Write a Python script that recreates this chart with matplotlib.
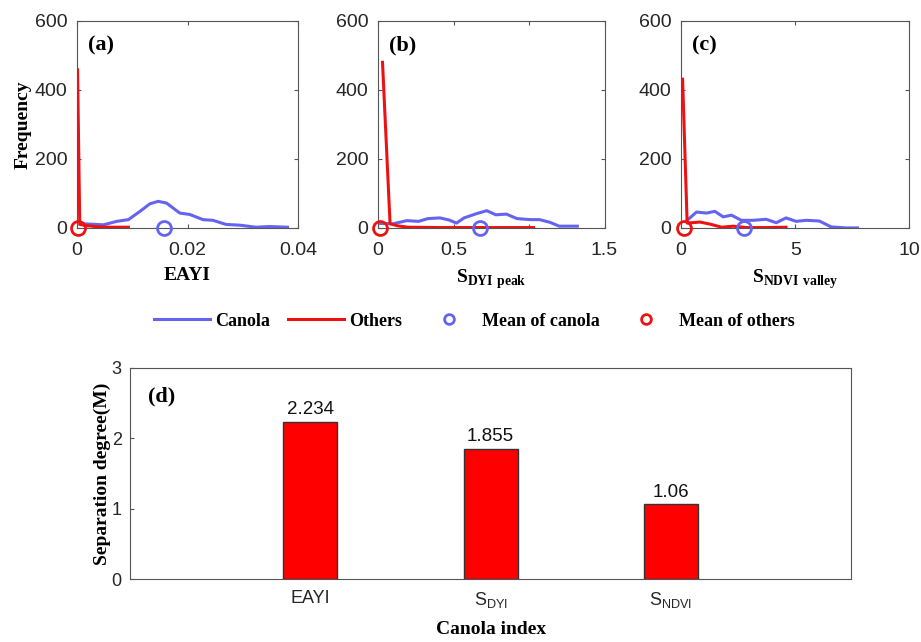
import numpy as np
import matplotlib
matplotlib.use('Agg')
import matplotlib.pyplot as plt
from matplotlib.lines import Line2D

plt.rcParams['font.family'] = ['Liberation Sans', 'DejaVu Sans']
plt.rcParams['mathtext.fontset'] = 'custom'
plt.rcParams['mathtext.rm'] = 'Liberation Sans'
plt.rcParams['mathtext.bf'] = 'Liberation Serif:bold'
plt.rcParams['axes.edgecolor'] = '#555555'
plt.rcParams['xtick.color'] = '#555555'
plt.rcParams['ytick.color'] = '#555555'
plt.rcParams['xtick.labelcolor'] = '#262626'
plt.rcParams['ytick.labelcolor'] = '#262626'

SERIF = ['Liberation Serif', 'DejaVu Serif']
BLUE = '#6464f0'
RED = '#ee1111'

# frequency curves for each index (x = index value, y = count)
eayi_canola_x = [0.0011, 0.0048, 0.0072, 0.0093, 0.0114, 0.0132, 0.0147, 0.0162, 0.0186,
                 0.0204, 0.0228, 0.0246, 0.0270, 0.0294, 0.0324, 0.0348, 0.0381]
eayi_canola_y = [12, 9, 19, 24, 48, 70, 77, 72, 43, 39, 24, 22, 10, 8, 2, 4, 2]
eayi_others_x = [0.0001, 0.0005, 0.002, 0.004, 0.006, 0.008, 0.0093]
eayi_others_y = [458, 10, 6, 3, 2, 2, 2]
eayi_means = (0.0157, 0.0001)

sdyi_canola_x = [0.013, 0.10, 0.19, 0.27, 0.33, 0.41, 0.47, 0.52, 0.57, 0.65, 0.72, 0.78,
                 0.85, 0.92, 1.01, 1.07, 1.14, 1.20, 1.32]
sdyi_canola_y = [13, 12, 21, 19, 27, 29, 23, 14, 29, 41, 50, 38, 40, 27, 24, 24, 16, 5, 5]
sdyi_others_x = [0.03, 0.08, 0.13, 0.2, 0.4, 0.6, 0.8, 1.03]
sdyi_others_y = [480, 12, 6, 2, 1, 1, 1, 1]
sdyi_means = (0.675, 0.013)

sndvi_canola_x = [0.27, 0.68, 1.12, 1.48, 1.85, 2.21, 2.64, 3.15, 3.73, 4.17, 4.6, 5.04,
                  5.48, 6.06, 6.57, 7.22, 7.73]
sndvi_canola_y = [22, 46, 43, 48, 32, 37, 22, 22, 25, 15, 29, 19, 22, 20, 3, 0, 0]
sndvi_others_x = [0.07, 0.27, 0.83, 1.27, 1.78, 2.29, 2.87, 3.74, 4.6]
sndvi_others_y = [431, 14, 17, 11, 2, 5, 1, 1, 2]
sndvi_means = (2.77, 0.15)

# separation degree per index
index_names = ['EAYI', r'$\mathrm{S_{DYI}}$', r'$\mathrm{S_{NDVI}}$']
separation = [2.234, 1.855, 1.06]

fig = plt.figure(figsize=(9.21, 6.42), dpi=100)


def hist_panel(rect, cx, cy, ox, oy, means, xlim, xticks, xlabel, letter, ylabel=None):
    ax = fig.add_axes(rect)
    ax.plot(cx, cy, color=BLUE, lw=2.2, zorder=2)
    ax.plot(ox, oy, color=RED, lw=2.2, zorder=3)
    ax.plot(means[0], 0, 'o', mfc='none', mec=BLUE, mew=2, ms=10, zorder=4, clip_on=False)
    ax.plot(means[1], 0, 'o', mfc='none', mec=RED, mew=2, ms=10, zorder=4, clip_on=False)
    ax.set_xlim(xlim)
    ax.set_ylim(0, 600)
    ax.set_xticks(xticks)
    ax.set_yticks([0, 200, 400, 600])
    ax.tick_params(direction='in', top=True, right=True, length=3, labelsize=14)
    ax.tick_params(axis='x', pad=10)
    ax.tick_params(axis='y', pad=7)
    ax.set_xlabel(xlabel, family=SERIF, fontweight='bold', fontsize=14, labelpad=6)
    if ylabel:
        ax.set_ylabel(ylabel, family=SERIF, fontweight='bold', fontsize=14, labelpad=2)
    ax.text(0.05, 0.88, letter, transform=ax.transAxes, family=SERIF, fontweight='bold',
            fontsize=16, ha='left', va='center')
    return ax


ax_a = hist_panel([0.0836, 0.645, 0.240, 0.3224], eayi_canola_x, eayi_canola_y,
                  eayi_others_x, eayi_others_y, eayi_means, (0, 0.04), [0, 0.02, 0.04],
                  'EAYI', '(a)', 'Frequency')
ax_a.set_xticklabels(['0', '0.02', '0.04'])
ax_b = hist_panel([0.4104, 0.645, 0.246, 0.3224], sdyi_canola_x, sdyi_canola_y,
                  sdyi_others_x, sdyi_others_y, sdyi_means, (0, 1.5), [0, 0.5, 1, 1.5],
                  r'$\mathbf{S}_{\mathbf{DYI\ peak}}$', '(b)')
ax_b.set_xticklabels(['0', '0.5', '1', '1.5'])
ax_c = hist_panel([0.7394, 0.645, 0.248, 0.3224], sndvi_canola_x, sndvi_canola_y,
                  sndvi_others_x, sndvi_others_y, sndvi_means, (0, 10), [0, 5, 10],
                  r'$\mathbf{S}_{\mathbf{NDVI\ valley}}$', '(c)')

# shared legend between the rows
handles = [
    Line2D([], [], color=BLUE, lw=2.2),
    Line2D([], [], color=RED, lw=2.2),
    Line2D([], [], ls='none', marker='o', mfc='none', mec=BLUE, mew=2, ms=7),
    Line2D([], [], ls='none', marker='o', mfc='none', mec=RED, mew=2, ms=7),
]
fig.legend(handles, ['Canola', 'Others', 'Mean of canola', 'Mean of others'],
           loc='center', bbox_to_anchor=(0.515, 0.50), ncol=4, frameon=False,
           prop={'family': SERIF, 'weight': 'bold', 'size': 13},
           handlelength=3.1, handletextpad=0.3, columnspacing=1.0)

# separation degree bars
ax_d = fig.add_axes([0.1412, 0.0981, 0.783, 0.3287])
pos = np.arange(1, len(separation) + 1)
ax_d.bar(pos, separation, width=0.3, color='#ff0000', edgecolor='#333333', lw=1)
for p, v in zip(pos, separation):
    ax_d.text(p, v + 0.05, f'{v:g}', ha='center', va='bottom', fontsize=13.5, color='#111111')
ax_d.set_xlim(0, 4)
ax_d.set_ylim(0, 3)
ax_d.set_xticks(pos)
ax_d.set_xticklabels(index_names)
ax_d.set_yticks([0, 1, 2, 3])
ax_d.tick_params(axis='x', length=0, labelsize=13, pad=8)
ax_d.tick_params(axis='y', direction='in', length=3, labelsize=13, pad=6)
ax_d.set_xlabel('Canola index', family=SERIF, fontweight='bold', fontsize=14, labelpad=8)
ax_d.set_ylabel('Separation degree(M)', family=SERIF, fontweight='bold', fontsize=14, labelpad=0.5)
ax_d.text(0.025, 0.867, '(d)', transform=ax_d.transAxes, family=SERIF, fontweight='bold',
          fontsize=16, ha='left', va='center')

fig.savefig('out.png', dpi=100)
